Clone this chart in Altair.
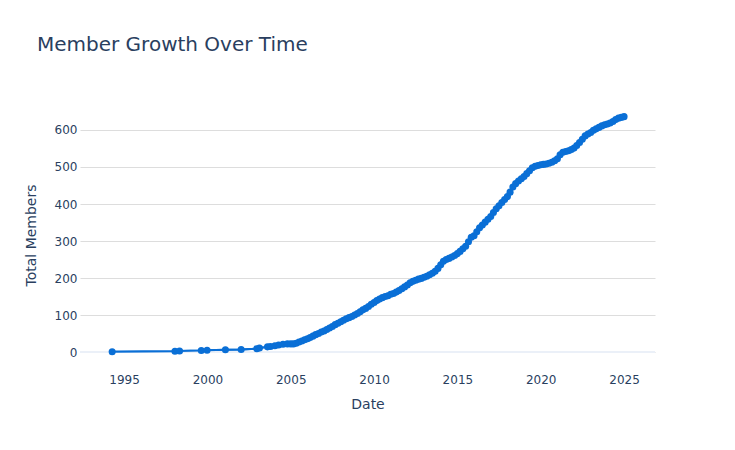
import altair as alt
import pandas as pd

# Cumulative member counts
early_dates = [
    "1994-04-15", "1998-01-20", "1998-05-01", "1999-08-20", "1999-12-25",
    "2001-01-30", "2002-01-10", "2002-12-20", "2003-02-15", "2003-08-10",
    "2003-10-15", "2004-01-20", "2004-04-10", "2004-07-15", "2004-10-20",
]
early_totals = [1, 2, 3, 4, 5, 6, 7, 9, 11, 14, 15, 17, 19, 21, 22]

later_dates = [
    "2005-01-01", "2005-03-01", "2005-05-01", "2005-07-01", "2005-09-01", "2005-11-01",
    "2006-01-01", "2006-03-01", "2006-05-01", "2006-07-01", "2006-09-01", "2006-11-01",
    "2007-01-01", "2007-03-01", "2007-05-01", "2007-07-01", "2007-09-01", "2007-11-01",
    "2008-01-01", "2008-03-01", "2008-05-01", "2008-07-01", "2008-09-01", "2008-11-01",
    "2009-01-01", "2009-03-01", "2009-05-01", "2009-07-01", "2009-09-01", "2009-11-01",
    "2010-01-01", "2010-03-01", "2010-05-01", "2010-07-01", "2010-09-01", "2010-11-01",
    "2011-01-01", "2011-03-01", "2011-05-01", "2011-07-01", "2011-09-01", "2011-11-01",
    "2012-01-01", "2012-03-01", "2012-05-01", "2012-07-01", "2012-09-01", "2012-11-01",
    "2013-01-01", "2013-03-01", "2013-05-01", "2013-07-01", "2013-09-01", "2013-11-01",
    "2014-01-01", "2014-03-01", "2014-05-01", "2014-07-01", "2014-09-01", "2014-11-01",
    "2015-01-01", "2015-03-01", "2015-05-01", "2015-07-01", "2015-09-01", "2015-11-01",
    "2016-01-01", "2016-03-01", "2016-05-01", "2016-07-01", "2016-09-01", "2016-11-01",
    "2017-01-01", "2017-03-01", "2017-05-01", "2017-07-01", "2017-09-01", "2017-11-01",
    "2018-01-01", "2018-03-01", "2018-05-01", "2018-07-01", "2018-09-01", "2018-11-01",
    "2019-01-01", "2019-03-01", "2019-05-01", "2019-07-01", "2019-09-01", "2019-11-01",
    "2020-01-01", "2020-03-01", "2020-05-01", "2020-07-01", "2020-09-01", "2020-11-01",
    "2021-01-01", "2021-03-01", "2021-05-01", "2021-07-01", "2021-09-01", "2021-11-01",
    "2022-01-01", "2022-03-01", "2022-05-01", "2022-07-01", "2022-09-01", "2022-11-01",
    "2023-01-01", "2023-03-01", "2023-05-01", "2023-07-01", "2023-09-01", "2023-11-01",
    "2024-01-01", "2024-03-01", "2024-05-01", "2024-07-01", "2024-09-01", "2024-11-01",
    "2025-01-01",
]
later_totals = [
    22, 22, 24, 27, 30, 33,
    36, 39, 43, 47, 50, 54,
    57, 61, 65, 69, 74, 78,
    82, 86, 90, 93, 96, 100,
    104, 109, 114, 118, 123, 129,
    134, 139, 143, 147, 150, 152,
    156, 158, 162, 166, 171, 176,
    181, 187, 191, 194, 197, 199,
    202, 205, 209, 213, 218, 226,
    236, 245, 250, 253, 257, 261,
    266, 272, 279, 286, 298, 310,
    314, 325, 336, 343, 351, 359,
    366, 377, 387, 395, 404, 412,
    420, 432, 446, 455, 462, 468,
    474, 482, 490, 498, 502, 504,
    506, 507, 508, 510, 513, 517,
    522, 533, 540, 542, 544, 547,
    551, 558, 566, 575, 584, 589,
    593, 599, 603, 607, 611, 614,
    616, 619, 623, 628, 632, 634,
    636,
]

df = pd.DataFrame({
    "Date": pd.to_datetime(early_dates + later_dates),
    "Total Members": early_totals + later_totals,
})

FONT = "DejaVu Sans"
TXT = "#2a3f5f"
BLUE = "#0a6fd6"

x_enc = alt.X(
    "Date:T",
    title="Date",
    scale=alt.Scale(domain=[alt.DateTime(year=1992, month=5, date=10),
                            alt.DateTime(year=2026, month=11, date=10)]),
    axis=alt.Axis(
        values=[alt.DateTime(year=y, month=1, date=1) for y in range(1995, 2030, 5)],
        format="%Y", grid=False, labelPadding=4, titlePadding=12,
    ),
)
y_enc = alt.Y(
    "Total Members:Q",
    title="Total Members",
    scale=alt.Scale(domain=[-48.5, 681], nice=False, zero=False),
    axis=alt.Axis(values=[0, 100, 200, 300, 400, 500, 600], grid=True,
                  gridColor="#dddddd", labelPadding=3, titlePadding=16),
)

base = alt.Chart(df)

zero = base.mark_rule(color="#EBF0F8", strokeWidth=2).encode(y=alt.datum(0))
line = base.mark_line(color=BLUE, strokeWidth=2).encode(x=x_enc, y=y_enc)
pts = base.mark_circle(color=BLUE, size=50, opacity=1).encode(x="Date:T", y="Total Members:Q")

chart = (
    alt.layer(line, zero, line, pts)
    .properties(
        width=575,
        height=270,
        autosize=alt.AutoSizeParams(type="none"),
        padding={"left": 80, "top": 100, "right": 80, "bottom": 80},
        title=alt.Title("Member Growth Over Time", anchor="start", frame="group",
                        dx=-43, offset=45.5, font=FONT, fontSize=20,
                        fontWeight="normal", color=TXT),
    )
    .configure(background="white")
    .configure_view(strokeWidth=0, stroke="transparent")
    .configure_axis(
        domain=False, ticks=False, labelFont=FONT, labelFontSize=12,
        labelColor=TXT, titleFont=FONT, titleFontSize=14, titleColor=TXT,
        titleFontWeight="normal",
    )
)

chart.save("out.html", embed_options={"renderer": "svg", "actions": False})
